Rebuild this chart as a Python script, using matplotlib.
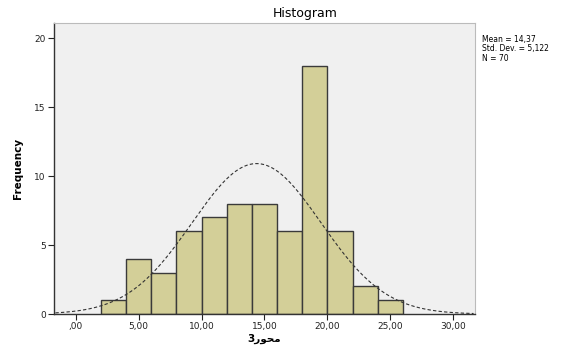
import numpy as np
import matplotlib
matplotlib.use('Agg')
import matplotlib.pyplot as plt

# histogram bins (width 2) and counts
bin_edges = [2, 4, 6, 8, 10, 12, 14, 16, 18, 20, 22, 24, 26]
counts = [1, 4, 3, 6, 7, 8, 8, 6, 18, 6, 2, 1]
mean = 14.37
sd = 5.122
n = 70

xticks = [0, 5, 10, 15, 20, 25, 30]
xtick_labels = [',00', '5,00', '10,00', '15,00', '20,00', '25,00', '30,00']
yticks = [0, 5, 10, 15, 20]

fig = plt.figure(figsize=(5.7, 3.47), dpi=100)
ax = fig.add_axes([0.095, 0.095, 0.738, 0.839])
ax.set_facecolor('#f0f0f0')

lefts = bin_edges[:-1]
widths = np.diff(bin_edges)
ax.bar(lefts, counts, width=widths, align='edge', color='#d3cf98',
       edgecolor='#3a3a3a', linewidth=1.0)

xs = np.linspace(-1.6, 31.6, 300)
bw = widths[0]
ys = n * bw / (sd * np.sqrt(2 * np.pi)) * np.exp(-0.5 * ((xs - mean) / sd) ** 2)
ax.plot(xs, ys, color='#333333', linestyle=(0, (3, 2)), linewidth=0.8)

ax.set_xlim(-1.7, 31.7)
ax.set_ylim(0, 21.1)
ax.set_xticks(xticks)
ax.set_xticklabels(xtick_labels)
ax.set_yticks(yticks)
ax.tick_params(labelsize=6.5, length=4, width=0.8, colors='#222222', pad=2)

for s in ['top', 'right']:
    ax.spines[s].set_color('#bbbbbb')
    ax.spines[s].set_linewidth(0.8)
for s in ['left', 'bottom']:
    ax.spines[s].set_color('#333333')
    ax.spines[s].set_linewidth(1.0)

ax.set_ylabel('Frequency', fontsize=7.5, fontweight='bold', labelpad=8)
# Arabic "محور3" in visual (shaped) order
ax.set_xlabel('3\uFEAD\uFEEE\uFEA4\uFEE3', fontsize=7.5, fontweight='bold',
              labelpad=2, family=['DejaVu Sans'])

fig.text(0.535, 0.96, 'Histogram', ha='center', va='center', fontsize=9)
fig.text(0.845, 0.90, 'Mean = 14,37\nStd. Dev. = 5,122\nN = 70',
         ha='left', va='top', fontsize=5.5, linespacing=1.1)

plt.savefig('out.png', dpi=100)
